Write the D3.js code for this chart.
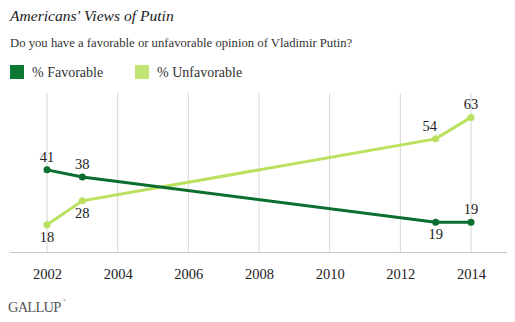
<!DOCTYPE html>
<html><head><meta charset="utf-8">
<script src="https://cdn.jsdelivr.net/npm/d3@7/dist/d3.min.js"></script>
<style>body{margin:0;background:#fff}svg{display:block}</style>
</head><body>
<script>
const years = [2002, 2003, 2013, 2014];
const favorable = [41, 38, 19, 19];
const unfavorable = [18, 28, 54, 63];
const tickYears = [2002, 2004, 2006, 2008, 2010, 2012, 2014];
const seriesNames = ["% Favorable", "% Unfavorable"];
// label placement: "a" above, "b" below
const favPos = ["a", "a", "b", "a"];
const unfPos = ["b", "b", "al", "a"];

const W = 515, H = 322;
const svg = d3.select("body").append("svg").attr("width", W).attr("height", H);
const serif = "'Liberation Serif', 'DejaVu Serif', serif";
const darkG = "#0b6e2e", lightG = "#b9e15e";
const darkSq = "#0c7a34", lightSq = "#c3e576";

svg.append("text").attr("x", 10).attr("y", 21).text("Americans' Views of Putin")
  .attr("font-family", serif).attr("font-style", "italic").attr("font-size", 15.6).attr("fill", "#222");
svg.append("text").attr("x", 10).attr("y", 47).text("Do you have a favorable or unfavorable opinion of Vladimir Putin?")
  .attr("font-family", serif).attr("font-size", 12.7).attr("fill", "#333");

const legX = [10, 135];
[darkSq, lightSq].forEach((c, i) => {
  svg.append("rect").attr("x", legX[i]).attr("y", 65).attr("width", 14).attr("height", 14).attr("fill", c);
  svg.append("text").attr("x", legX[i] + 22).attr("y", 76.5).text(seriesNames[i])
    .attr("font-family", serif).attr("font-size", 14).attr("fill", "#333");
});

const x = d3.scaleLinear().domain([2002, 2014]).range([47, 471]);
const y = d3.scaleLinear().domain([18, 63]).range([224.7, 117.4]);
const plotTop = 93, plotBottom = 252.5;

const g = svg.append("g");
g.selectAll("line.grid").data(tickYears).join("line")
  .attr("x1", d => x(d)).attr("x2", d => x(d)).attr("y1", plotTop).attr("y2", plotBottom)
  .attr("stroke", "#d6d6d6").attr("stroke-width", 1);
g.append("line").attr("x1", 10).attr("x2", 507).attr("y1", plotBottom).attr("y2", plotBottom)
  .attr("stroke", "#c8c8c8").attr("stroke-width", 1.2);

const axis = d3.axisBottom(x).tickValues(tickYears).tickFormat(d3.format("d")).tickSize(0).tickPadding(16);
const ax = svg.append("g").attr("transform", `translate(0,${plotBottom})`).call(axis);
ax.select(".domain").remove();
ax.selectAll("text").attr("font-family", serif).attr("font-size", 14.5).attr("fill", "#222");

const line = d3.line().x(d => x(d[0])).y(d => y(d[1]));
function drawSeries(vals, color, pos) {
  const pts = years.map((yr, i) => [yr, vals[i]]);
  svg.append("path").attr("d", line(pts)).attr("fill", "none").attr("stroke", color).attr("stroke-width", 3);
  svg.selectAll(null).data(pts).join("circle").attr("cx", d => x(d[0])).attr("cy", d => y(d[1])).attr("r", 3.5).attr("fill", color);
  svg.selectAll(null).data(pts).join("text")
    .attr("x", (d, i) => x(d[0]) + (pos[i] === "al" ? -6 : 0))
    .attr("y", (d, i) => y(d[1]) + (pos[i] === "b" ? 17 : -8))
    .attr("text-anchor", "middle").text(d => d[1])
    .attr("font-family", serif).attr("font-size", 14.5).attr("fill", "#222");
}
drawSeries(unfavorable, lightG, unfPos);
drawSeries(favorable, darkG, favPos);

svg.append("text").attr("x", 8).attr("y", 312).text("GALLUP")
  .attr("font-family", serif).attr("font-size", 14.5).attr("fill", "#555").attr("letter-spacing", -0.8);
svg.append("text").attr("x", 63).attr("y", 302).text("®")
  .attr("font-family", serif).attr("font-size", 4).attr("fill", "#555");
</script>
</body></html>
